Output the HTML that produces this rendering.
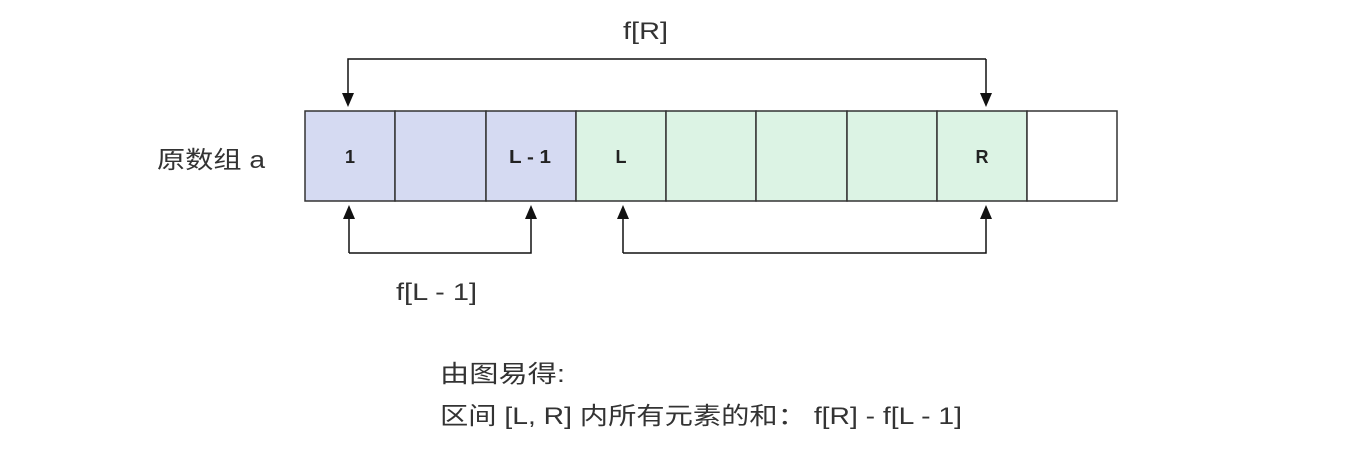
<!DOCTYPE html>
<html><head><meta charset="utf-8"><style>
body{margin:0;background:#fff;width:1350px;height:462px;overflow:hidden}
svg text{font-family:"Liberation Sans","Noto Sans CJK SC",sans-serif}
</style></head><body>
<svg width="1350" height="462" viewBox="0 0 1350 462" xmlns="http://www.w3.org/2000/svg">
<defs><marker id="a" markerWidth="14" markerHeight="14" refX="7" refY="7" orient="auto" markerUnits="userSpaceOnUse" viewBox="0 0 14 14"><path d="M0,1 L14,7 L0,13 z" fill="#111"/></marker></defs>
<g stroke="#333" stroke-width="1.5">
<rect x="305" y="111" width="90" height="90" fill="#d5daf2"/>
<rect x="395" y="111" width="91" height="90" fill="#d5daf2"/>
<rect x="486" y="111" width="90" height="90" fill="#d5daf2"/>
<rect x="576" y="111" width="90" height="90" fill="#dcf3e4"/>
<rect x="666" y="111" width="90" height="90" fill="#dcf3e4"/>
<rect x="756" y="111" width="91" height="90" fill="#dcf3e4"/>
<rect x="847" y="111" width="90" height="90" fill="#dcf3e4"/>
<rect x="937" y="111" width="90" height="90" fill="#dcf3e4"/>
<rect x="1027" y="111" width="90" height="90" fill="#fff"/>
</g>
<g fill="#222" font-size="18" font-weight="bold" text-anchor="middle">
<text x="350" y="163">1</text>
<text x="530" y="163" textLength="42" lengthAdjust="spacingAndGlyphs">L - 1</text>
<text x="621" y="163">L</text>
<text x="982" y="163">R</text>
</g>
<g fill="none" stroke="#111" stroke-width="1.5" marker-end="url(#a)">
<path d="M986,59 L348,59 L348,100"/>
<path d="M986,59 L986,100"/>
<path d="M349,253 L349,212"/>
<path d="M349,253 L531,253 L531,212"/>
<path d="M623,253 L623,212"/>
<path d="M623,253 L986,253 L986,212"/>
</g>
<g fill="#333" font-size="24">
<text x="623" y="39" textLength="45" lengthAdjust="spacingAndGlyphs">f[R]</text>
<text x="396" y="300" textLength="81" lengthAdjust="spacingAndGlyphs">f[L - 1]</text>
<text x="157" y="168" textLength="108" lengthAdjust="spacingAndGlyphs">原数组 a</text>
<text x="440" y="382" textLength="125" lengthAdjust="spacingAndGlyphs">由图易得:</text>
<text x="440" y="424" textLength="522" lengthAdjust="spacingAndGlyphs">区间 [L, R] 内所有元素的和： f[R] - f[L - 1]</text>
</g>
</svg>
</body></html>
